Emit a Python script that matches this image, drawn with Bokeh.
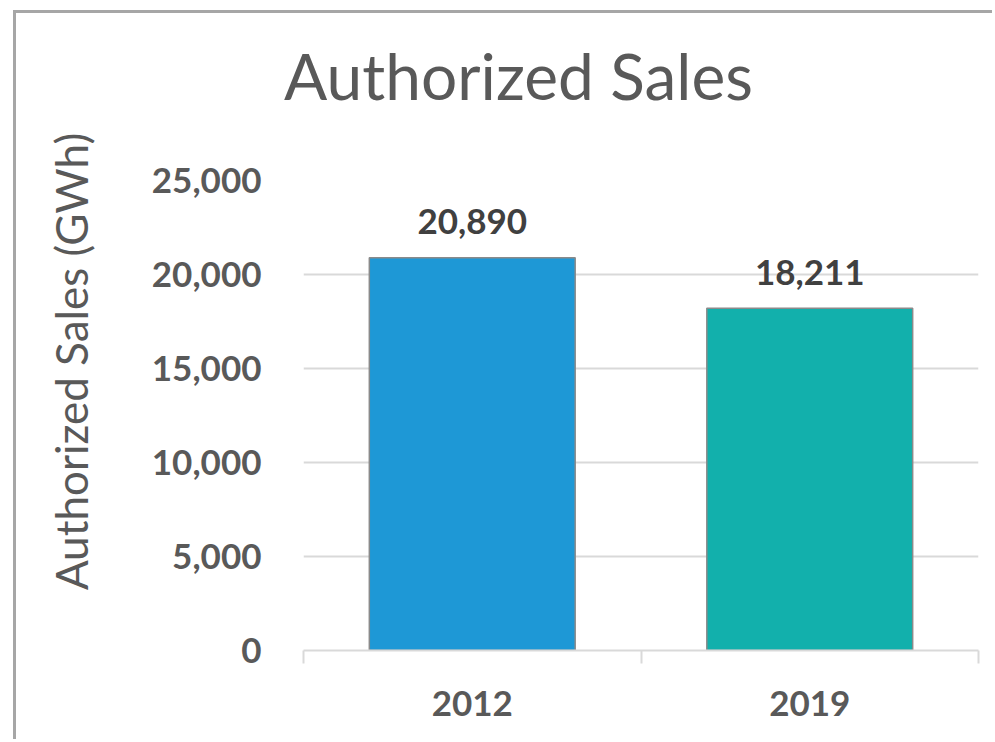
import math
from bokeh.plotting import figure
from bokeh.models import (ColumnDataSource, Range1d, FixedTicker, NumeralTickFormatter,
                          Label, LinearAxis, Grid)
from bokeh.core.properties import value
from bokeh.embed import file_html
from bokeh.resources import INLINE

# ---- data ----
categories = ["2012", "2019"]
sales_gwh = [20890, 18211]
bar_colors = ["#1E98D6", "#12B0AC"]
y_ticks = [0, 5000, 10000, 15000, 20000, 25000]
title_text = "Authorized Sales"
y_label_text = "Authorized Sales (GWh)"

FONT = "Lato"

positions = [i + 0.5 for i in range(len(categories))]
boundaries = [float(i) for i in range(len(categories) + 1)]

source = ColumnDataSource(dict(
    x=positions,
    top=sales_gwh,
    color=bar_colors,
    label=[f"{v:,}" for v in sales_gwh],
))

p = figure(width=979, height=729, output_backend="svg", toolbar_location=None,
           x_range=Range1d(0, len(categories)), y_range=Range1d(0, 25000),
           x_axis_type=None, y_axis_type=None,
           min_border_left=287, min_border_right=17, min_border_top=167,
           min_border_bottom=92,
           styles={"margin-left": "13px", "margin-top": "10px",
                   "border-left": "3px solid #a6a6a6",
                   "border-top": "3px solid #a6a6a6"})
p.outline_line_color = None
p.background_fill_color = "white"
p.border_fill_color = "white"

# y axis
yaxis = LinearAxis(ticker=FixedTicker(ticks=y_ticks),
                   formatter=NumeralTickFormatter(format="0,0"))
yaxis.axis_line_color = None
yaxis.major_tick_line_color = None
yaxis.minor_tick_line_color = None
yaxis.major_tick_out = 0
yaxis.major_tick_in = 0
yaxis.major_label_standoff = 42
yaxis.major_label_text_font = FONT
yaxis.major_label_text_font_style = "bold"
yaxis.major_label_text_font_size = "35px"
yaxis.major_label_text_color = "#595959"
p.add_layout(yaxis, "left")

# x axis
xaxis = LinearAxis(ticker=FixedTicker(ticks=positions, minor_ticks=boundaries))
xaxis.major_label_overrides = {pos: cat for pos, cat in zip(positions, categories)}
xaxis.axis_line_color = "#d9d9d9"
xaxis.axis_line_width = 2
xaxis.major_tick_line_color = None
xaxis.major_tick_out = 0
xaxis.major_tick_in = 0
xaxis.minor_tick_line_color = "#d9d9d9"
xaxis.minor_tick_line_width = 2
xaxis.minor_tick_out = 13
xaxis.minor_tick_in = 0
xaxis.major_label_standoff = 27
xaxis.major_label_text_font = FONT
xaxis.major_label_text_font_style = "bold"
xaxis.major_label_text_font_size = "35px"
xaxis.major_label_text_color = "#595959"
p.add_layout(xaxis, "below")

grid = Grid(dimension=1, ticker=FixedTicker(ticks=y_ticks),
            grid_line_color="#d9d9d9", grid_line_width=2)
p.add_layout(grid, "center")

p.vbar(x="x", top="top", bottom=0, width=0.61, fill_color="color",
       line_color="#8a8a8a", line_width=1.5, source=source)

p.text(x="x", y="top", text="label", source=source,
       text_font=value(FONT), text_font_style="bold", text_font_size="35px",
       text_color="#404040", text_align="center", text_baseline="alphabetic",
       y_offset=-36)

# chart title, placed in the top panel
p.add_layout(Label(x=215, y=105, x_units="screen", y_units="screen",
                   text=title_text, text_font=FONT, text_font_size="64px",
                   text_color="#595959", text_align="center",
                   text_baseline="alphabetic"), "above")

# y axis label, placed in the left panel
p.add_layout(Label(x=-26, y=289, x_units="screen", y_units="screen",
                   angle=math.pi / 2, text=y_label_text, text_font=FONT,
                   text_font_size="44px", text_color="#595959",
                   text_align="center", text_baseline="middle"), "left")

open("out.html", "w").write(file_html(p, INLINE))
